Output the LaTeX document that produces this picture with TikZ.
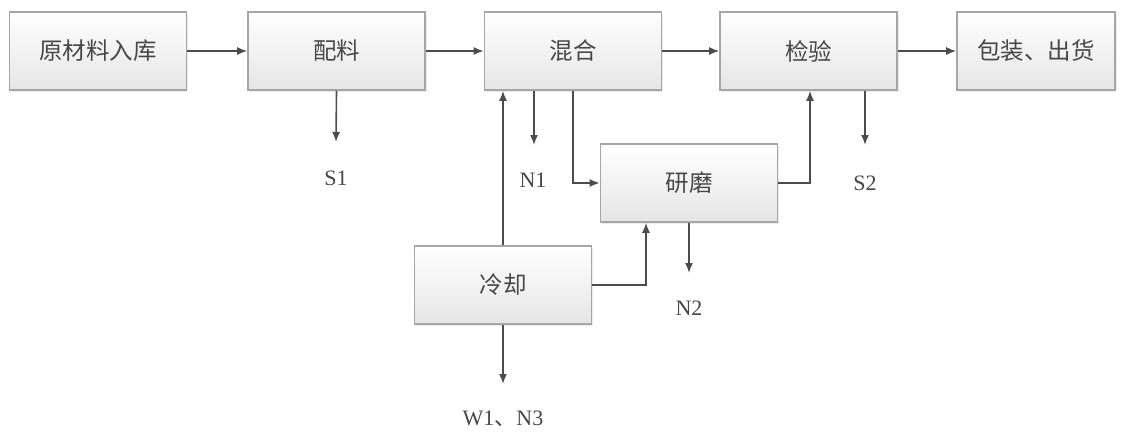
\documentclass[tikz,border=0pt]{standalone}
\usepackage{fontspec}
\setmainfont{Liberation Serif}
\newfontfamily\cjk{Noto Sans CJK SC}
\usetikzlibrary{arrows.meta}
\usetikzlibrary{shadows}

\begin{document}
\begin{tikzpicture}[x=1pt,y=-1pt,
    stage/.style={draw=gray!70, line width=1.6pt, top color=white, bottom color=gray!20,
        drop shadow={shadow xshift=1.5pt, shadow yshift=-1.5pt, opacity=0.15},
        minimum width=177pt, minimum height=78pt, font=\cjk\fontsize{23.5}{26}\selectfont, text=black!72},
    outlab/.style={font=\fontsize{22}{26}\selectfont, text=black!72},
    flow/.style={draw=black!70, line width=1.6pt, -{Latex[length=10pt,width=8pt]}}]
    \useasboundingbox (0,0) rectangle (1123,432);

    % main line
    \node[stage] (raw) at (98,51) {原材料入库};
    \node[stage] (peiliao) at (336.5,51) {配料};
    \node[stage] (hunhe) at (573,51) {混合};
    \node[stage] (jianyan) at (808.5,51) {检验};
    \node[stage, minimum width=158pt] (baozhuang) at (1036,51) {包装、出货};
    \node[stage] (yanmo) at (689,183) {研磨};
    \node[stage] (lengque) at (503,285) {冷却};

    \draw[flow] (raw) -- (peiliao);
    \draw[flow] (peiliao) -- (hunhe);
    \draw[flow] (hunhe) -- (jianyan);
    \draw[flow] (jianyan) -- (baozhuang);

    % branch through grinding and cooling
    \draw[flow] (hunhe.south) |- (yanmo.west);
    \draw[flow] (yanmo.east) -| ([xshift=1.5pt]jianyan.south);
    \draw[flow] (lengque.north) -- (lengque.north |- hunhe.south);
    \draw[flow] (lengque.east) -| ([xshift=-43pt]yanmo.south);

    % outputs
    \node[outlab] (s1) at (336,178) {S1};
    \node[outlab] (n1) at (533,180) {N1};
    \node[outlab] (s2) at (865,183) {S2};
    \node[outlab] (n2) at (689,308) {N2};
    \node[outlab] (w1n3) at (503,419) {W1{\cjk 、}N3};

    \coordinate (s1end) at (336,142);
    \coordinate (n1end) at (534,145);
    \coordinate (s2end) at (865,145);
    \coordinate (n2end) at (689,273);
    \coordinate (w1end) at (503,384);

    \draw[flow] (peiliao.south) -- (s1end);
    \draw[flow] (hunhe.south -| n1end) -- (n1end);
    \draw[flow] (jianyan.south -| s2end) -- (s2end);
    \draw[flow] (yanmo.south) -- (n2end);
    \draw[flow] (lengque.south) -- (w1end);
\end{tikzpicture}
\end{document}
